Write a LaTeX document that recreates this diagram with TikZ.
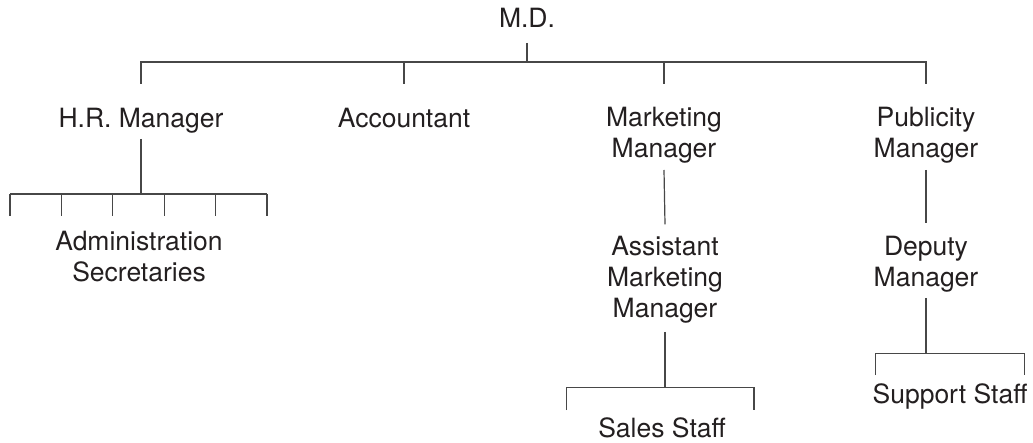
\documentclass[tikz,border=0pt]{standalone}
\usepackage{fontspec}
\setmainfont{TeX Gyre Heros}
\definecolor{ink}{HTML}{231F20}
\begin{document}
\begin{tikzpicture}[x=1pt,y=1pt,
    lbl/.style={anchor=base,inner sep=0pt,align=center,text=ink,
      font=\fontsize{26.5}{31}\selectfont},
    line width=1.2pt,draw=black!72]
	\useasboundingbox (0,0) rectangle (1033,-443);
	% labels (base = last line)
	\node[lbl] (md) at (527,-28) {M.D.};
	\node[lbl] (hr) at (141,-128) {H.R. Manager};
	\node[lbl] (acc) at (404,-128) {Accountant};
	\node[lbl] (mkt) at (664,-158) {Marketing\\Manager};
	\node[lbl] (pub) at (926,-158) {Publicity\\Manager};
	\node[lbl] (adm) at (139,-282) {Administration\\Secretaries};
	\node[lbl] (amm) at (665,-318) {Assistant\\Marketing\\Manager};
	\node[lbl] (dep) at (926,-286.5) {Deputy\\Manager};
	\node[lbl] (sales) at (662,-437) {Sales Staff};
	\node[lbl] (supp) at (950,-403) {Support Staff};
	% top level
	\coordinate (mdbar) at (527,-62);
	\draw ([yshift=-15]md.base) -- (mdbar);
	\draw ([yshift=44]hr.base) -- (hr |- mdbar) -- (pub |- mdbar) -- ([yshift=74]pub.base);
	\draw ([yshift=44]acc.base) -- (acc |- mdbar);
	\draw ([yshift=74]mkt.base) -- (mkt |- mdbar);
	% H.R.
	\coordinate (hrbar) at (141,-194);
	\draw ([yshift=-11]hr.base) -- (hrbar);
	\draw (10,-194) -- (267,-194);
	\foreach \i in {0,...,5}
		\draw (10+51.4*\i,-194) -- ++(0,-22.5);
	% marketing
	\draw ([yshift=-12]mkt.base) -- ([yshift=93.7]amm.base);
	\coordinate (ammbar) at (665,-387.3);
	\draw ([yshift=-14]amm.base) -- (ammbar);
	\draw (566.3,-410) |- (754,-387.3) -- ++(0,-22.7);
	% publicity
	\draw ([yshift=-12]pub.base) -- ([yshift=63]dep.base);
	\coordinate (depbar) at (926,-353.3);
	\draw ([yshift=-11.5]dep.base) -- (depbar);
	\draw (875.3,-375) |- (1024.3,-353.3) -- ++(0,-21.7);
\end{tikzpicture}
\end{document}
